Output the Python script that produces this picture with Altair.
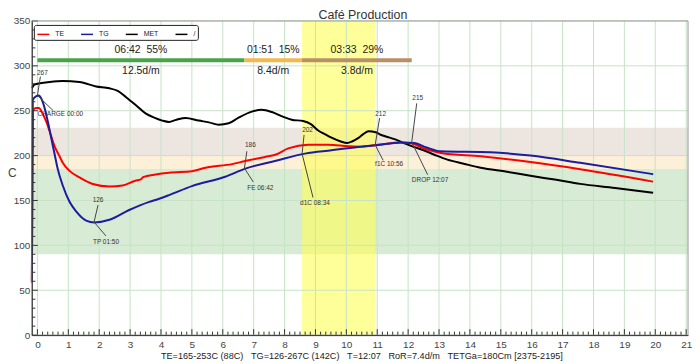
import altair as alt
import pandas as pd

FONT = "Liberation Sans"

title_text = "Café Production"
stats_text = "TE=165-253C (88C)\u00a0\u00a0\u00a0TG=126-267C (142C)\u00a0\u00a0\u00a0T=12:07\u00a0\u00a0\u00a0RoR=7.4d/m\u00a0\u00a0\u00a0TETGa=180Cm [2375-2195]"
y_title = "C"

# ---- curves (time in minutes, temperature in C) ----
met_t = [-0.18, -0.1, 0.0, 0.4, 0.82, 1.36, 1.9, 2.33, 2.6, 2.87, 3.19, 3.5, 3.8, 4.04, 4.26, 4.5, 4.8,
         5.22, 5.55, 5.87, 6.19, 6.5, 6.94, 7.26, 7.59, 7.9, 8.23, 8.6, 8.85, 9.09, 9.3, 9.52, 9.8,
         10.03, 10.2, 10.38, 10.55, 10.72, 10.95, 11.13, 11.4, 11.66, 11.93, 12.2, 12.5, 12.85, 13.27,
         13.8, 14.35, 15.2, 15.96, 16.8, 17.57, 18.7, 19.93]
met_T = [275, 279, 280, 282, 283, 282, 277, 275, 272, 265, 256, 247, 242, 239, 237.5, 240, 242,
         239, 237, 234.5, 236, 242, 249, 251, 248.5, 244, 240, 238.5, 235, 228, 224, 220, 216,
         214, 216, 219.5, 224, 227, 226, 223, 220, 217, 213, 209.5, 206, 201, 195.5,
         191, 186.5, 182, 177.5, 173, 168.5, 164, 158.5]

te_t = [-0.18, -0.15, -0.05, 0.05, 0.15, 0.29, 0.4, 0.56, 0.72, 0.82, 1.04, 1.36, 1.79, 2.33, 2.76,
        3.17, 3.35, 3.42, 3.83, 4.26, 5.0, 5.44, 6.3, 6.73, 7.37, 7.7, 8.12, 8.77, 9.41, 10.06,
        10.48, 11.02, 11.77, 12.05, 12.63, 13.06, 14.35, 15.96, 17.57, 19.93]
te_T = [58, 250, 253, 253, 248, 237.5, 226.6, 210, 199, 192, 183, 175.7, 168.4, 165.6, 166.7,
        172, 173.5, 176, 179, 181, 182.5, 186.5, 190.5, 194, 198.5, 201, 208, 212, 212, 210.5,
        210, 212, 214.6, 214, 206.5, 203, 199.3, 192.8, 184.8, 171]

tg_t = [-0.18, -0.15, -0.05, 0.05, 0.18, 0.34, 0.45, 0.56, 0.66, 0.82, 1.04, 1.26, 1.58, 1.84,
        2.33, 2.97, 3.62, 3.94, 4.26, 5.0, 6.08, 6.73, 7.69, 8.66, 9.52, 10.38, 10.97, 11.77,
        12.2, 12.6, 13.06, 14.67, 15.96, 17.57, 19.93]
tg_T = [60, 262, 266, 267, 259, 237.5, 219, 201, 184.8, 166.7, 148.5, 137.6, 127.5, 125.5,
        128.5, 139.4, 148.5, 152, 156, 166, 176.5, 185.5, 193.9, 202.2, 205.9, 209.5, 211.5, 214.6,
        214, 209, 204.8, 203.7, 200, 192, 179.3]

series_names = ["TE", "TG", "MET", "/"]
series_colors = ["#ff0000", "#1c1ca0", "#000000", "#000000"]

# ---- phases ----
phase_start = [0.0, 6.7, 8.567]
phase_end = [6.7, 8.567, 12.117]
phase_top = ["06:42\u00a0\u00a055%", "01:51\u00a0\u00a015%", "03:33\u00a0\u00a029%"]
phase_bottom = ["12.5d/m", "8.4d/m", "3.8d/m"]
phase_colors = ["#4aa34a", "#f3b94d", "#b89067"]

# ---- background bands ----
band_lo = [90, 185, 200]
band_hi = [185, 200, 231]
band_colors = ["#d8ebd5", "#fdf0d9", "#ede6e0"]
dev_start = 8.567
dev_end = 10.933

# ---- annotations ----
ann_time = [0.0, 1.833, 6.7, 8.567, 10.933, 12.117]
ann_temp = [267, 126, 186, 202, 212, 215]
ann_label = ["267", "126", "186", "202", "212", "215"]
ann_event = ["CHARGE 00:00", "TP 01:50", "FE 06:42", "d1C 08:34", "f1C 10:56", "DROP 12:07"]
lab_off = [(5, -23), (4, -22), (6, -23), (5.5, -24), (5.5, -31), (6, -44.6)]
l1_off = [(3, -19), (4, -17), (2.5, -17), (2, -19), (4.5, -27), (5, -39)]
ev_off = [(23, 19), (12, 20), (16, 19.5), (13, 49), (14, 19), (18.4, 37.8)]
l2_off = [(15.6, 15), (12, 14), (9, 14), (11, 44), (8, 15.6), (16, 32.8)]

# ---- layout ----
W, H = 660, 316
XDOM = [-0.18, 21.06]
YDOM = [0, 350]
sx = W / (XDOM[1] - XDOM[0])
sy = H / (YDOM[1] - YDOM[0])

x_scale = alt.Scale(domain=XDOM, nice=False, zero=False)
y_scale = alt.Scale(domain=YDOM, nice=False, zero=False)
x_axis = alt.Axis(values=list(range(0, 22)), title=None, grid=False, ticks=False,
                  labelFontSize=10, labelFont=FONT, labelColor="#444", labelPadding=4,
                  domainColor="#333", domainWidth=1, labelFlush=False, labelOverlap=False, zindex=1)
y_axis = alt.Axis(values=list(range(0, 351, 50)), title=None, grid=False, ticks=False,
                  labelFontSize=10, labelFont=FONT, labelColor="#444", labelPadding=2,
                  domainColor="#333", domainWidth=1, labelFlush=False, labelOverlap=False, zindex=1)


def X(f):
    return alt.X(f, type="quantitative", scale=x_scale, axis=x_axis)


def Y(f):
    return alt.Y(f, type="quantitative", scale=y_scale, axis=y_axis)


one = pd.DataFrame({"a": [0]})

# bands
bands_df = pd.DataFrame({"lo": band_lo, "hi": band_hi, "c": band_colors})
bands = alt.Chart(bands_df).mark_rect().encode(
    x=alt.value(0), x2=alt.value(W), y=Y("lo"), y2="hi", color=alt.Color("c:N", scale=None))

dev_df = pd.DataFrame({"s": [dev_start], "e": [dev_end]})
dev = alt.Chart(dev_df).mark_rect(color="#ffff55", opacity=0.6).encode(
    x=X("s"), x2="e", y=alt.value(0), y2=alt.value(H))

# grid
vgrid = alt.Chart(pd.DataFrame({"t": list(range(0, 22))})).mark_rule(color="#c6e3c6", strokeWidth=1).encode(
    x=X("t"), y=alt.value(0), y2=alt.value(H))
hgrid = alt.Chart(pd.DataFrame({"T": list(range(0, 351, 50))})).mark_rule(color="#c6e3c6", strokeWidth=1).encode(
    y=Y("T"), x=alt.value(0), x2=alt.value(W))

# phases
ph_df = pd.DataFrame({"s": phase_start, "e": phase_end, "top": phase_top, "bot": phase_bottom,
                      "c": phase_colors})
ph_df["m"] = (ph_df["s"] + ph_df["e"]) / 2
ph_bar = alt.Chart(ph_df).mark_rect().encode(
    x=X("s"), x2="e", y=alt.value(37.5), y2=alt.value(41.5), color=alt.Color("c:N", scale=None))
ph_top = alt.Chart(ph_df).mark_text(fontSize=10.5, font=FONT, color="#222", baseline="middle").encode(
    x=X("m"), y=alt.value(29.5), text="top:N")
ph_bot = alt.Chart(ph_df).mark_text(fontSize=10.5, font=FONT, color="#222", baseline="middle").encode(
    x=X("m"), y=alt.value(50), text="bot:N")

# curves
rows = []
for name, ts, vs in [("MET", met_t, met_T), ("TE", te_t, te_T), ("TG", tg_t, tg_T)]:
    for i, (t, v) in enumerate(zip(ts, vs)):
        rows.append({"series": name, "t": t, "T": v, "i": i})
curves_df = pd.DataFrame(rows)
curves = alt.Chart(curves_df).mark_line(strokeWidth=2, interpolate="monotone").encode(
    x=X("t"), y=Y("T"),
    color=alt.Color("series:N", scale=alt.Scale(domain=series_names, range=series_colors),
                    legend=alt.Legend(orient="none", legendX=2, legendY=4, direction="horizontal",
                                      title=None, symbolType="stroke", symbolSize=144,
                                      symbolStrokeWidth=1.5, labelFontSize=7, labelFont=FONT,
                                      labelColor="#222", labelOffset=5, columnPadding=14,
                                      padding=2.5, strokeColor="#222", cornerRadius=2,
                                      fillColor="white", rowPadding=0)),
    order="i:Q")

# annotations
arows = []
for i in range(len(ann_time)):
    t0, T0 = ann_time[i], ann_temp[i]
    arows.append({
        "t": t0, "T": T0, "lab": ann_label[i], "ev": ann_event[i],
        "lt": t0 + lab_off[i][0] / sx, "lT": T0 - lab_off[i][1] / sy,
        "l1t": t0 + l1_off[i][0] / sx, "l1T": T0 - l1_off[i][1] / sy,
        "et": t0 + ev_off[i][0] / sx, "eT": T0 - ev_off[i][1] / sy,
        "l2t": t0 + l2_off[i][0] / sx, "l2T": T0 - l2_off[i][1] / sy,
    })
ann_df = pd.DataFrame(arows)
ann_l1 = alt.Chart(ann_df).mark_rule(color="#444", strokeWidth=1).encode(
    x=X("t"), y=Y("T"), x2="l1t", y2="l1T")
ann_l2 = alt.Chart(ann_df).mark_rule(color="#444", strokeWidth=1).encode(
    x=X("t"), y=Y("T"), x2="l2t", y2="l2T")
ann_lab = alt.Chart(ann_df).mark_text(fontSize=6.5, font=FONT, color="#333", baseline="middle").encode(
    x=X("lt"), y=Y("lT"), text="lab:N")
ann_ev = alt.Chart(ann_df).mark_text(fontSize=6.5, font=FONT, color="#333", baseline="middle").encode(
    x=X("et"), y=Y("eT"), text="ev:N")

# inner ticks
yt = list(range(0, 351, 10))
y_minor = alt.Chart(pd.DataFrame({"T": [v for v in yt if v % 50 != 0]})).mark_rule(color="#333").encode(
    y=Y("T"), x=alt.value(0), x2=alt.value(3.5))
y_major = alt.Chart(pd.DataFrame({"T": [v for v in yt if v % 50 == 0]})).mark_rule(color="#333").encode(
    y=Y("T"), x=alt.value(0), x2=alt.value(6))
xt = [k / 6 for k in range(0, 21 * 6 + 1)]
x_minor = alt.Chart(pd.DataFrame({"t": [v for k, v in enumerate(xt) if k % 6 != 0]})).mark_rule(color="#333").encode(
    x=X("t"), y=alt.value(H), y2=alt.value(H - 3.5))
x_major = alt.Chart(pd.DataFrame({"t": [v for k, v in enumerate(xt) if k % 6 == 0]})).mark_rule(color="#333").encode(
    x=X("t"), y=alt.value(H), y2=alt.value(H - 6))

frame = alt.Chart(one).mark_rect(fillOpacity=0, stroke="#999", strokeWidth=1).encode(
    x=alt.value(0), x2=alt.value(W), y=alt.value(0), y2=alt.value(H))

title = alt.Chart(one).mark_text(text=title_text, fontSize=12.5, font=FONT, color="#333",
                                 baseline="top", align="center").encode(
    x=alt.value(W / 2 + 3), y=alt.value(-12))
ytitle = alt.Chart(one).mark_text(text=y_title, fontSize=12, font=FONT, color="#444",
                                  baseline="middle", align="left").encode(
    x=alt.value(-24), y=alt.value(153))
stats = alt.Chart(one).mark_text(text=stats_text, fontSize=9.2, font=FONT, color="#222",
                                 baseline="middle", align="center").encode(
    x=alt.value(W / 2 + 2), y=alt.value(H + 21))

chart = alt.layer(
    bands, dev, vgrid, hgrid, ph_bar, ph_top, ph_bot, curves,
    ann_l1, ann_l2, ann_lab, ann_ev, y_minor, y_major, x_minor, x_major, frame,
    title, ytitle, stats
).properties(width=W, height=H, padding=0).configure_view(stroke=None)

chart.save("out.html", embed_options={"renderer": "svg", "actions": False})
